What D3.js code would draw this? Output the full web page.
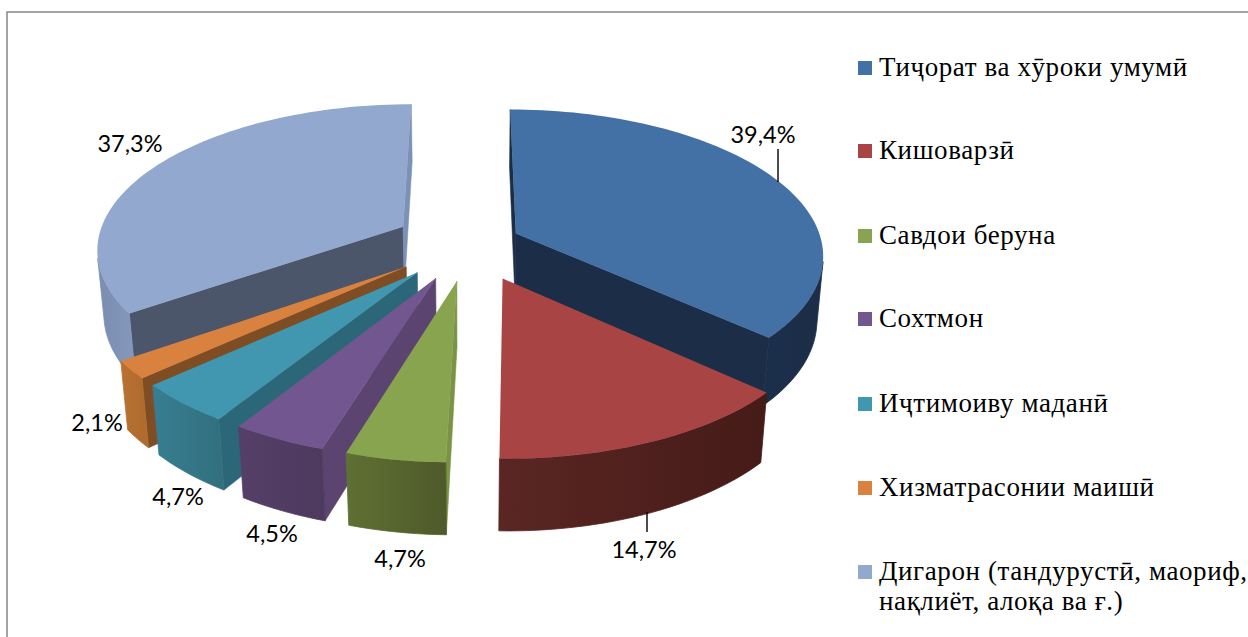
<!DOCTYPE html>
<html>
<head>
<meta charset="utf-8">
<script src="https://cdn.jsdelivr.net/npm/d3@7"></script>
<style>
    html, body { margin: 0; padding: 0; background: #fff; }
    svg { display: block; }
</style>
</head>
<body>
<svg id="chart" width="1248" height="637"></svg>
<script>
// data
const categories = [
    'Тиҷорат ва хӯроки умумӣ',
    'Кишоварзӣ',
    'Савдои беруна',
    'Сохтмон',
    'Иҷтимоиву маданӣ',
    'Хизматрасонии маишӣ',
    'Дигарон (тандурустӣ, маориф,|нақлиёт, алоқа ва ғ.)'
];
const values = [39.4, 14.7, 4.7, 4.5, 4.7, 2.1, 37.3];

// colours
const topColors = ['#4471a5', '#a84444', '#89a44e', '#725690', '#4197b0', '#d98240', '#93a8ce'];
const rimColors = [
    ['#1b2d47', '#1c2f4a'], ['#451b18', '#5a2623'], ['#4e5a2a', '#5f7033'], ['#4d3a5e', '#553f68'],
    ['#32707f', '#377e92'], ['#b06b2e', '#b97231'], ['#8397ba', '#7a8db0']
];
const startWall = ['#1b2d47', '#4a1e1b', '#7a9445', '#5b4570', '#2c6779', '#7e4d24', '#4c566b'];
const endWall = ['#1b2d47', '#4a1e1b', '#7a9445', '#5b4570', '#2c6779', '#7e4d24', '#7c91b6'];

// layout
const explode = [0.165, 0.26, 0.26, 0.26, 0.26, 0.26, 0.25];
const drawOrder = [6, 0, 5, 4, 3, 2, 1];
const labelPos = [[763, 143], [644, 558], [400, 567], [272, 542], [178, 505], [97, 431], [130, 152]];
const leaders = [[778, 149, 778, 182], [647, 512, 647, 532]];
const legendY = [68, 151, 236, 319, 404, 488, 572];

// camera for the tilted pie
const cam = { cx: 470, cy: 243, tilt: 28 * Math.PI / 180, dist: 6.3, focal: 1930, height: 0.24 };

function project(x, v, z) {
    const yc = v * Math.sin(cam.tilt) + z * Math.cos(cam.tilt);
    const dc = cam.dist + v * Math.cos(cam.tilt) - z * Math.sin(cam.tilt);
    return [cam.cx + cam.focal * x / dc, cam.cy - cam.focal * yc / dc];
}

const svg = d3.select('#chart');
const defs = svg.append('defs');
const line = d3.line().curve(d3.curveLinear);

// frame
svg.append('path')
    .attr('d', 'M7,637V12H1248')
    .attr('fill', 'none')
    .attr('stroke', '#868686')
    .attr('stroke-width', 1.5);

const arcs = d3.pie().sort(null).value(d => d)(values);
const pieGroup = svg.append('g').attr('class', 'pie');

drawOrder.forEach(i => {
    const a = arcs[i];
    const mid = (a.startAngle + a.endAngle) / 2;
    const ox = explode[i] * Math.sin(mid);
    const ov = explode[i] * Math.cos(mid);
    const g = pieGroup.append('g').attr('class', 'slice-' + i);

    const point = (t, r, z) => project(ox + r * Math.sin(t), ov + r * Math.cos(t), z);

    const n = Math.max(4, Math.ceil((a.endAngle - a.startAngle) / 0.03));
    const angles = d3.range(n + 1).map(k => a.startAngle + (a.endAngle - a.startAngle) * k / n);

    const drawFace = (pts, color) => {
        g.append('path')
            .attr('d', line(pts) + 'Z')
            .attr('fill', color)
            .attr('stroke', color)
            .attr('stroke-width', 0.6);
    };

    // radial walls, only the ones facing the camera (clockwise on screen)
    const h = -cam.height;
    const wallA = [point(a.startAngle, 1, 0), point(a.startAngle, 0, 0), point(a.startAngle, 0, h), point(a.startAngle, 1, h)];
    const wallB = [point(a.endAngle, 0, 0), point(a.endAngle, 1, 0), point(a.endAngle, 1, h), point(a.endAngle, 0, h)];
    if (d3.polygonArea(wallA) < 0) drawFace(wallA, startWall[i]);
    if (d3.polygonArea(wallB) < 0) drawFace(wallB, endWall[i]);

    // outer rim
    const visible = angles.slice(0, -1).filter((t0, k) => {
        const t1 = angles[k + 1];
        return d3.polygonArea([point(t1, 1, 0), point(t0, 1, 0), point(t0, 1, h), point(t1, 1, h)]) < 0;
    });
    if (visible.length) {
        const last = visible[visible.length - 1] + (a.endAngle - a.startAngle) / n;
        const ts = visible.concat([last]);
        const upper = ts.map(t => point(t, 1, 0));
        const lower = ts.map(t => point(t, 1, h)).reverse();
        const grad = defs.append('linearGradient')
            .attr('id', 'rim-' + i)
            .attr('gradientUnits', 'userSpaceOnUse')
            .attr('x1', upper[0][0]).attr('y1', 0)
            .attr('x2', upper[upper.length - 1][0]).attr('y2', 0);
        grad.append('stop').attr('offset', 0).attr('stop-color', rimColors[i][0]);
        grad.append('stop').attr('offset', 1).attr('stop-color', rimColors[i][1]);
        g.append('path')
            .attr('d', line(upper.concat(lower)) + 'Z')
            .attr('fill', `url(#rim-${i})`)
            .attr('stroke', `url(#rim-${i})`)
            .attr('stroke-width', 0.8);
    }

    // top
    const top = [point(a.startAngle, 0, 0)].concat(angles.map(t => point(t, 1, 0)));
    g.append('path').attr('d', line(top) + 'Z').attr('fill', topColors[i]);
});

// leader lines
svg.selectAll('.leader').data(leaders).enter().append('line')
    .attr('class', 'leader')
    .attr('x1', d => d[0]).attr('y1', d => d[1])
    .attr('x2', d => d[2]).attr('y2', d => d[3])
    .attr('stroke', '#000')
    .attr('stroke-width', 1.4);

// value labels
svg.selectAll('.value-label').data(values).enter().append('text')
    .attr('class', 'value-label')
    .attr('x', (d, i) => labelPos[i][0])
    .attr('y', (d, i) => labelPos[i][1])
    .attr('text-anchor', 'middle')
    .style('font-family', 'Lato, sans-serif')
    .style('font-size', '23.5px')
    .attr('fill', '#000')
    .text(d => d.toFixed(1).replace('.', ',') + '%');

// legend
const legend = svg.append('g').attr('class', 'legend');
categories.forEach((c, i) => {
    legend.append('rect')
        .attr('x', 858).attr('y', legendY[i] - 7)
        .attr('width', 14).attr('height', 14)
        .attr('fill', topColors[i]);
    c.split('|').forEach((part, j) => {
        legend.append('text')
            .attr('x', 879)
            .attr('y', legendY[i] + 8 + j * 30)
            .style('font-family', '"Liberation Serif", serif')
            .style('font-size', '27px')
            .style('letter-spacing', '0.6px')
            .attr('fill', '#000')
            .text(part);
    });
});
</script>
</body>
</html>
